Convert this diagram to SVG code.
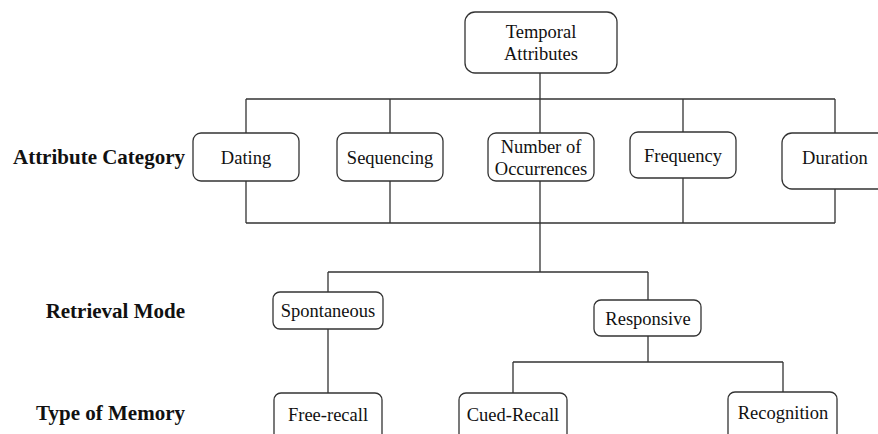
<svg xmlns="http://www.w3.org/2000/svg" width="878" height="434" viewBox="0 0 878 434">
<style>
.box{fill:#fff;stroke:#333;stroke-width:1.3}
.t{font-family:"Liberation Serif","Times New Roman",serif;font-size:18.5px;fill:#111;text-anchor:middle}
.lbl{font-family:"Liberation Serif","Times New Roman",serif;font-size:21px;font-weight:bold;fill:#111;text-anchor:end}
.c{fill:none;stroke:#333;stroke-width:1.3}
</style>
<rect width="878" height="434" fill="#fff"/>
<g id="connectors">
<path class="c" d="M540 73V99M246 99H835M246 99V133M390 99V133M540 99V133M683 99V132M835 99V133"/>
<path class="c" d="M246 181V223M390 181V223M540 181V223M683 178V223M835 189V223M246 223H835"/>
<path class="c" d="M540 223V272M328 272H648M328 272V292M648 272V300"/>
<path class="c" d="M328 329V393M648 336V362M513 362H783M513 362V393M783 362V392"/>
</g>
<g id="labels">
<text class="lbl" x="185" y="164">Attribute Category</text>
<text class="lbl" x="185" y="318">Retrieval Mode</text>
<text class="lbl" x="185" y="420">Type of Memory</text>
</g>
<g id="temporal"><rect class="box" x="465" y="12" width="152" height="61" rx="10"/><text class="t" x="541" y="38">Temporal</text><text class="t" x="541" y="60">Attributes</text></g>
<g id="dating"><rect class="box" x="193" y="133" width="106" height="48" rx="8"/><text class="t" x="246" y="164">Dating</text></g>
<g id="sequencing"><rect class="box" x="337" y="133" width="106" height="48" rx="8"/><text class="t" x="390" y="164">Sequencing</text></g>
<g id="occurrences"><rect class="box" x="488" y="133" width="106" height="48" rx="8"/><text class="t" x="541" y="153">Number of</text><text class="t" x="541" y="175">Occurrences</text></g>
<g id="frequency"><rect class="box" x="630" y="132" width="106" height="46" rx="8"/><text class="t" x="683" y="162">Frequency</text></g>
<g id="duration"><rect class="box" x="782" y="133" width="106" height="56" rx="10"/><text class="t" x="835" y="164">Duration</text></g>
<g id="spontaneous"><rect class="box" x="273" y="292" width="110" height="37" rx="7"/><text class="t" x="328" y="317">Spontaneous</text></g>
<g id="responsive"><rect class="box" x="594" y="300" width="107" height="36" rx="7"/><text class="t" x="648" y="325">Responsive</text></g>
<g id="freerecall"><rect class="box" x="274" y="393" width="108" height="50" rx="7"/><text class="t" x="328" y="421">Free-recall</text></g>
<g id="cuedrecall"><rect class="box" x="459" y="393" width="108" height="50" rx="7"/><text class="t" x="513" y="421">Cued-Recall</text></g>
<g id="recognition"><rect class="box" x="728" y="392" width="109" height="50" rx="7"/><text class="t" x="783" y="419">Recognition</text></g>
</svg>
